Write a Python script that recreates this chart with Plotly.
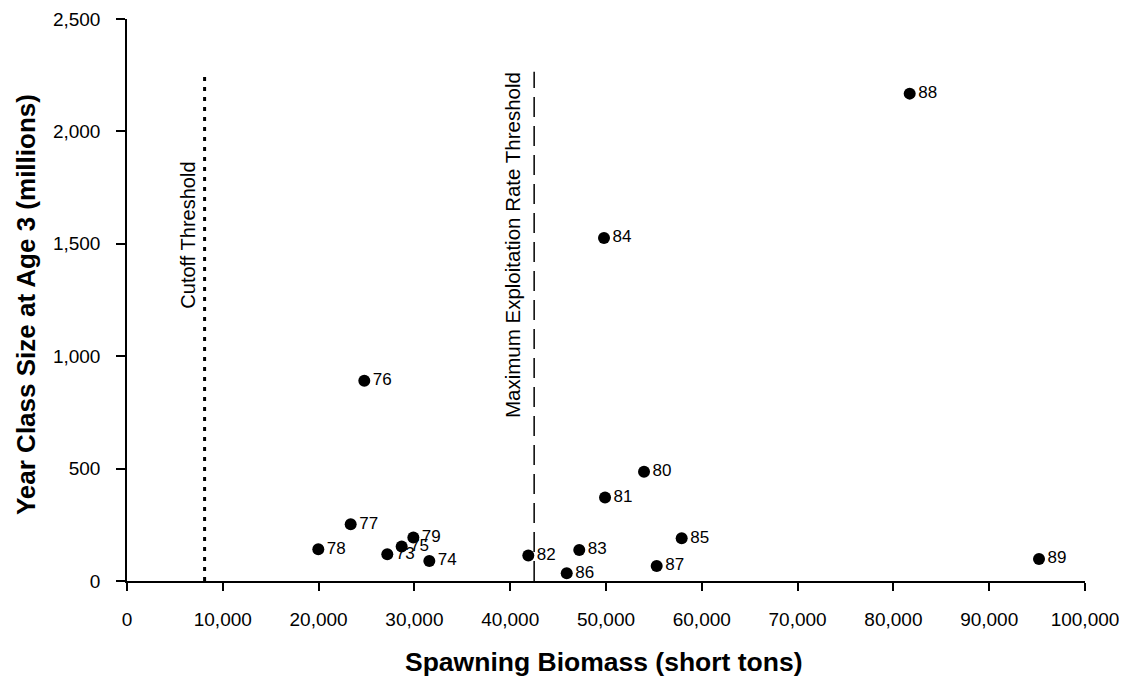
import plotly.graph_objects as go

# Data
years = ["73", "74", "75", "76", "77", "78", "79", "80", "81", "82",
         "83", "84", "85", "86", "87", "88", "89"]
biomass = [27170, 31560, 28670, 24770, 23350, 19970, 29890, 53970, 49900, 41890,
           47210, 49790, 57900, 45900, 55290, 81700, 95200]
year_class = [119, 89, 153, 891, 252, 141, 194, 486, 371, 113,
              138, 1526, 190, 34, 67, 2168, 98]

cutoff_threshold = 8100
max_rate_threshold = 42500
cutoff_top = 2250
max_rate_top = 2265

x_ticks = [0, 10000, 20000, 30000, 40000, 50000, 60000, 70000, 80000, 90000, 100000]
y_ticks = [0, 500, 1000, 1500, 2000, 2500]

FONT = "Liberation Sans, Arial, Helvetica, sans-serif"

fig = go.Figure()

fig.add_trace(go.Scatter(
    x=[cutoff_threshold, cutoff_threshold], y=[0, cutoff_top],
    mode="lines", line=dict(color="black", width=3, dash="4px,6px"),
    hoverinfo="skip", showlegend=False))

fig.add_trace(go.Scatter(
    x=[max_rate_threshold, max_rate_threshold], y=[0, max_rate_top],
    mode="lines", line=dict(color="black", width=1.5, dash="20px,9px"),
    hoverinfo="skip", showlegend=False))

fig.add_trace(go.Scatter(
    x=biomass, y=year_class, text=years,
    mode="markers+text", textposition="middle right",
    marker=dict(color="black", size=12),
    textfont=dict(family=FONT, size=17, color="black"),
    showlegend=False))

fig.add_annotation(
    x=cutoff_threshold, y=1539, xref="x", yref="y", xshift=-17,
    text="Cutoff Threshold", textangle=-90, showarrow=False,
    font=dict(family=FONT, size=20, color="black"))

fig.add_annotation(
    x=max_rate_threshold, y=1495, xref="x", yref="y", xshift=-21,
    text="Maximum Exploitation Rate Threshold", textangle=-90, showarrow=False,
    font=dict(family=FONT, size=20.5, color="black"))

fig.add_annotation(
    x=0.498, y=0, xref="paper", yref="paper", yshift=-81,
    text="<b>Spawning Biomass (short tons)</b>", showarrow=False,
    xanchor="center", yanchor="middle",
    font=dict(family=FONT, size=26.5, color="black"))

fig.add_annotation(
    x=0, y=0.491, xref="paper", yref="paper", xshift=-101,
    text="<b>Year Class Size at Age 3 (millions)</b>", textangle=-90,
    showarrow=False, xanchor="center", yanchor="middle",
    font=dict(family=FONT, size=26, color="black"))

# The page body adds an 8px offset, so the figure is sized to fill the window.
fig.update_layout(
    width=1119, height=670,
    margin=dict(l=119, r=42, t=11, b=97, autoexpand=False),
    paper_bgcolor="white", plot_bgcolor="white",
    font=dict(family=FONT, size=19, color="black"),
    xaxis=dict(range=[0, 100000], tickvals=x_ticks, tickformat=",d",
               automargin=False,
               showgrid=False, zeroline=False, showline=True,
               linecolor="black", linewidth=1.5, ticks="outside",
               ticklen=8, tickwidth=1.5, tickcolor="black",
               ticklabelstandoff=12,
               tickfont=dict(family=FONT, size=19, color="black")),
    yaxis=dict(range=[0, 2500], tickvals=y_ticks, tickformat=",d",
               automargin=False,
               showgrid=False, zeroline=False, showline=True,
               linecolor="black", linewidth=1.5, ticks="outside",
               ticklen=9, tickwidth=1.5, tickcolor="black",
               ticklabelstandoff=12,
               tickfont=dict(family=FONT, size=19, color="black")),
)

fig.write_html("out.html")
